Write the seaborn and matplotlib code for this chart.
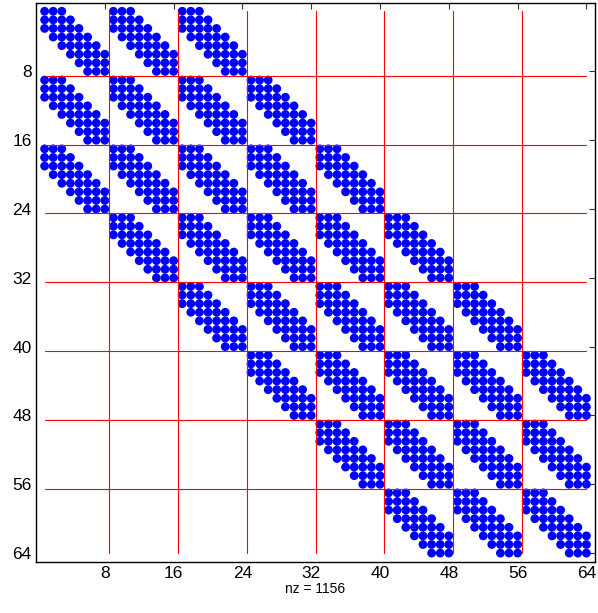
import numpy as np
import pandas as pd
import matplotlib
matplotlib.use("Agg")
import matplotlib.pyplot as plt
import seaborn as sns

# sparsity pattern: 8x8 blocks, each block banded
block_pattern = [
    [1, 1, 1, 0, 0, 0, 0, 0],
    [1, 1, 1, 1, 0, 0, 0, 0],
    [1, 1, 1, 1, 1, 0, 0, 0],
    [0, 1, 1, 1, 1, 1, 0, 0],
    [0, 0, 1, 1, 1, 1, 1, 0],
    [0, 0, 0, 1, 1, 1, 1, 1],
    [0, 0, 0, 0, 1, 1, 1, 1],
    [0, 0, 0, 0, 0, 1, 1, 1],
]
inner_pattern = [
    [1, 1, 1, 0, 0, 0, 0, 0],
    [1, 1, 1, 1, 0, 0, 0, 0],
    [1, 1, 1, 1, 1, 0, 0, 0],
    [0, 1, 1, 1, 1, 1, 0, 0],
    [0, 0, 1, 1, 1, 1, 1, 0],
    [0, 0, 0, 1, 1, 1, 1, 1],
    [0, 0, 0, 0, 1, 1, 1, 1],
    [0, 0, 0, 0, 0, 1, 1, 1],
]
ticks = [8, 16, 24, 32, 40, 48, 56, 64]
separators = [8.5, 16.5, 24.5, 32.5, 40.5, 48.5, 56.5]
n = 64

A = np.kron(np.array(block_pattern), np.array(inner_pattern))
rows, cols = np.nonzero(A)
df = pd.DataFrame({"row": rows + 1, "col": cols + 1})

sns.set_style("white")
plt.rcParams["font.family"] = ["Liberation Sans", "DejaVu Sans"]

fig = plt.figure(figsize=(5.98, 6.13), dpi=100)
ax = fig.add_axes([0.0602, 0.0837, 0.9348, 0.912])

sns.scatterplot(data=df, x="col", y="row", ax=ax, color="#0000ff",
                s=40, linewidth=0, edgecolor="none", legend=False)

for s in separators:
    ax.plot([s, s], [1, n], color="red", lw=0.8, zorder=1)
    ax.plot([1, n], [s, s], color="red", lw=0.8, zorder=1)

ax.set_xlim(0, n + 1)
ax.set_ylim(n + 1, 0)
ax.set_xticks(ticks)
ax.set_yticks(ticks)
ax.tick_params(direction="in", length=4, width=0.8, labelsize=12.5,
               top=True, right=True, color="#333333", labelcolor="black", pad=3)
for sp in ax.spines.values():
    sp.set_visible(True)
    sp.set_color("black")
    sp.set_linewidth(1)
ax.set_xlabel("nz = " + str(len(df)), fontsize=10, labelpad=1, color="black")
ax.set_ylabel("")

fig.savefig("out.png", dpi=100)
